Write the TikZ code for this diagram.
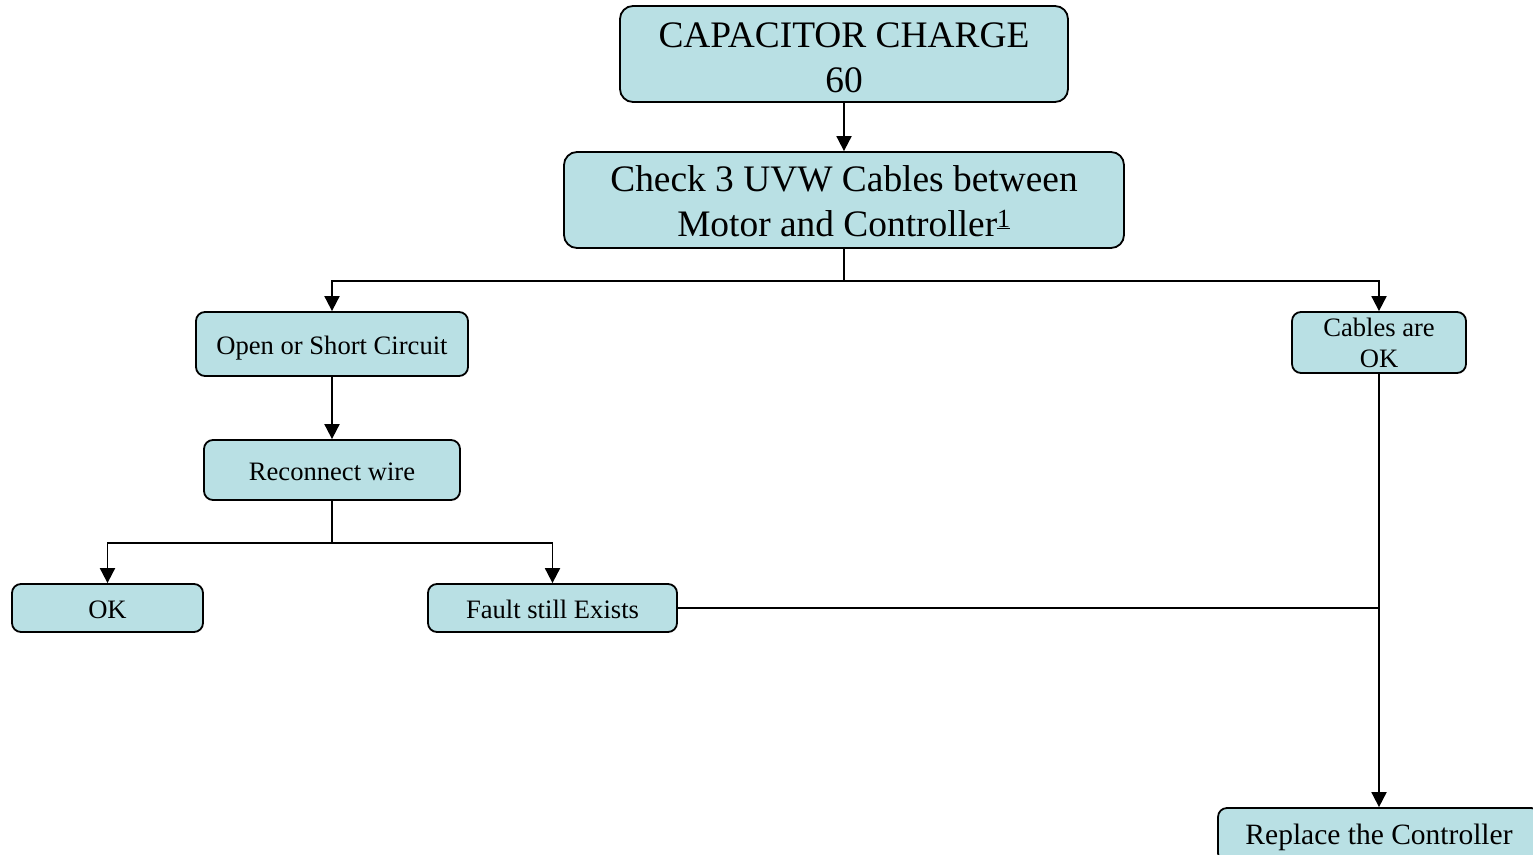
\documentclass[tikz,border=0pt]{standalone}
\usepackage{fontspec}
\setmainfont{Liberation Serif}
\usetikzlibrary{arrows.meta}
\definecolor{boxfill}{RGB}{185,224,228}
\tikzset{
  box/.style={draw=black, line width=1.8pt, fill=boxfill, rounded corners=#1, align=center, inner sep=0pt},
  box/.default=9pt,
  bigfont/.style={font=\fontsize{37.4}{45}\selectfont, text depth=0pt},
  smallfont/.style={font=\fontsize{26.6}{31}\selectfont},
  oneline/.style={smallfont, text height=20pt, text depth=0pt},
  conn/.style={line width=1.9pt},
  arr/.style={conn, -{Triangle[length=15pt,width=15pt]}}
}
\begin{document}
\begin{tikzpicture}[x=1pt,y=-1pt]
\useasboundingbox (0,0) rectangle (1533,854);
\clip (0,0) rectangle (1533,854);
\node[box=13pt, bigfont, text height=76pt, minimum width=448pt, minimum height=96pt] (cap) at (844,54) {CAPACITOR CHARGE\\60};
\node[box=13pt, bigfont, text height=72.5pt, minimum width=560pt, minimum height=96pt] (chk) at (844,200) {Check 3 UVW Cables between\\Motor and Controller\textsuperscript{\underline{1}}};
\node[box, oneline, minimum width=272pt, minimum height=64pt] (open) at (332,344) {Open or Short Circuit};
\node[box, smallfont, minimum width=174pt, minimum height=61pt] (cab) at (1379,342.5) {Cables are\\OK};
\node[box, oneline, text height=21pt, minimum width=256pt, minimum height=60pt] (rec) at (332,470) {Reconnect wire};
\node[box, oneline, minimum width=191pt, minimum height=48pt] (ok) at (107.5,608) {OK};
\node[box, oneline, minimum width=249pt, minimum height=48pt] (fault) at (552.5,608) {Fault still Exists};
\node[box, font=\fontsize{29.5}{35}\selectfont, text height=18pt, text depth=0pt, minimum width=322pt, minimum height=54pt] (rep) at (1379,835) {Replace the Controller};
\draw[arr] (cap.south) -- (chk.north);
\draw[arr] (chk.south) -- ++(0,32) -| (open.north);
\draw[arr] (chk.south) -- ++(0,32) -| (cab.north);
\draw[arr] (open.south) -- (rec.north);
\draw[arr] (rec.south) -- ++(0,42) -| (ok.north);
\draw[arr] (rec.south) -- ++(0,42) -| (fault.north);
\draw[conn] (fault.east) -- (fault.east -| cab.south);
\draw[arr] (cab.south) -- (rep.north);
\end{tikzpicture}
\end{document}
